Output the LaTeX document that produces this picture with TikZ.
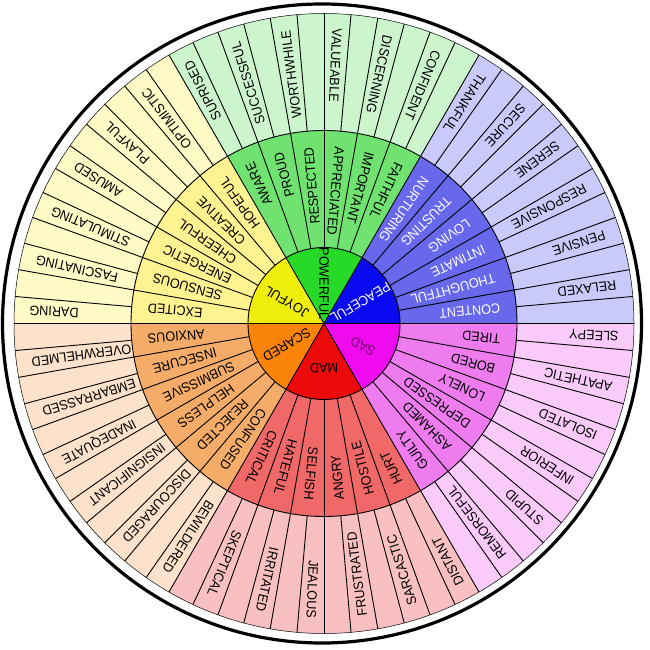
\documentclass[tikz,border=0pt]{standalone}
\usepackage{fontspec}
\setmainfont[FakeStretch=0.93]{Liberation Sans}
\definecolor{joy1}{RGB}{238,238,10}
\definecolor{joy2}{RGB}{255,243,145}
\definecolor{joy3}{RGB}{255,250,198}
\definecolor{pow1}{RGB}{40,218,40}
\definecolor{pow2}{RGB}{112,226,112}
\definecolor{pow3}{RGB}{205,245,205}
\definecolor{pea1}{RGB}{10,10,240}
\definecolor{pea2}{RGB}{104,104,236}
\definecolor{pea3}{RGB}{202,202,250}
\definecolor{sad1}{RGB}{240,10,240}
\definecolor{sad2}{RGB}{238,124,238}
\definecolor{sad3}{RGB}{250,202,250}
\definecolor{mad1}{RGB}{236,10,10}
\definecolor{mad2}{RGB}{240,104,104}
\definecolor{mad3}{RGB}{248,192,192}
\definecolor{sca1}{RGB}{250,132,10}
\definecolor{sca2}{RGB}{245,172,104}
\definecolor{sca3}{RGB}{252,226,202}
\definecolor{sadtext}{RGB}{110,0,110}
\newcommand{\wheellabel}[4]{%
  \pgfmathtruncatemacro{\wlflag}{cos(#1)<0}%
  \ifnum\wlflag=1
    \node[#4, rotate=#1, anchor=east] (n-#3) at (#1:#2) {#3};%
  \else
    \pgfmathsetmacro{\wlrot}{#1+180}%
    \node[#4, rotate=\wlrot, anchor=west] (n-#3) at (#1:#2) {#3};%
  \fi}
\begin{document}
\begin{tikzpicture}[x=1pt,y=1pt,
  lbl/.style={inner sep=0pt, font=\fontsize{13.6}{15}\selectfont, text=black},
  wlbl/.style={lbl, text=white},
  edgeline/.style={draw=black, line width=0.9pt}]
\useasboundingbox (0,0) rectangle (650,649);
\fill[white] (0,0) rectangle (650,649);
\draw[line width=3.2pt] (322,325.5) circle[radius=319.5];
\begin{scope}[shift={(324,325.5)}]
  % sectors
  \foreach \s/\col in {0/pea,60/pow,120/joy,180/sca,240/mad,300/sad} {
    \fill[fill=\col3] (0,0) -- (\s:310) arc[start angle=\s, end angle=\s+60, radius=310] -- cycle;
    \fill[fill=\col2] (0,0) -- (\s:193) arc[start angle=\s, end angle=\s+60, radius=193] -- cycle;
    \fill[fill=\col1] (0,0) -- (\s:76) arc[start angle=\s, end angle=\s+60, radius=76] -- cycle;
  }
  % division lines
  \foreach \a in {0,5,...,355} \draw[edgeline] (\a:193) -- (\a:310);
  \foreach \a in {0,10,...,350} \draw[edgeline] (\a:76) -- (\a:193);
  \foreach \a in {0,60,...,300} \draw[edgeline] (0,0) -- (\a:76);
  \draw[edgeline] (0,0) circle[radius=76];
  \draw[edgeline] (0,0) circle[radius=193];
  \draw[black, line width=0.5pt] (0,0) circle[radius=310];
  % core labels
  \node[lbl, rotate=150] (c-joy) at (150:43) {JOYFUL};
  \node[lbl, rotate=270] (c-pow) at (90:40) {POWERFUL};
  \node[wlbl, rotate=210] (c-pea) at (30:42) {PEACEFUL};
  \node[lbl, text=sadtext, rotate=150] (c-sad) at (-30:45) {SAD};
  \node[lbl, rotate=180] (c-mad) at (-90:45) {MAD};
  \node[lbl, rotate=210] (c-sca) at (210:43) {SCARED};
  % middle ring
  \foreach \a/\w in {175/EXCITED,165/SENSUOUS,155/ENERGETIC,145/CHEERFUL,135/CREATIVE,125/HOPEFUL,
    115/AWARE,105/PROUD,95/RESPECTED,85/APPRECIATED,75/IMPORTANT,65/FAITHFUL,
    -5/TIRED,-15/BORED,-25/LONELY,-35/DEPRESSED,-45/ASHAMED,-55/GUILTY,
    -65/HURT,-75/HOSTILE,-85/ANGRY,-95/SELFISH,-105/HATEFUL,-115/CRITICAL,
    235/CONFUSED,225/REJECTED,215/HELPLESS,205/SUBMISSIVE,195/INSECURE,185/ANXIOUS}
    {\wheellabel{\a}{177}{\w}{lbl}}
  \foreach \a/\w in {55/NURTURING,45/TRUSTING,35/LOVING,25/INTIMATE,15/THOUGHTFUL,5/CONTENT}
    {\wheellabel{\a}{177}{\w}{wlbl}}
  % outer ring
  \foreach \a/\w in {177.5/DARING,167.5/FASCINATING,157.5/STIMULATING,147.5/AMUSED,137.5/PLAYFUL,127.5/OPTIMISTIC,
    117.5/SUPRISED,107.5/SUCCESSFUL,97.5/WORTHWHILE,87.5/VALUEABLE,77.5/DISCERNING,67.5/CONFIDENT,
    57.5/THANKFUL,47.5/SECURE,37.5/SERENE,27.5/RESPONSIVE,17.5/PENSIVE,7.5/RELAXED,
    -2.5/SLEEPY,-12.5/APATHETIC,-22.5/ISOLATED,-32.5/INFERIOR,-42.5/STUPID,-52.5/REMORSEFUL,
    -62.5/DISTANT,-72.5/SARCASTIC,-82.5/FRUSTRATED,-92.5/JEALOUS,-102.5/IRRITATED,-112.5/SKEPTICAL,
    237.5/BEWILDERED,227.5/DISCOURAGED,217.5/INSIGNIFICANT,207.5/INADEQUATE,197.5/EMBARRASSED,187.5/OVERWHELMED}
    {\wheellabel{\a}{295}{\w}{lbl}}
\end{scope}
\end{tikzpicture}
\end{document}
